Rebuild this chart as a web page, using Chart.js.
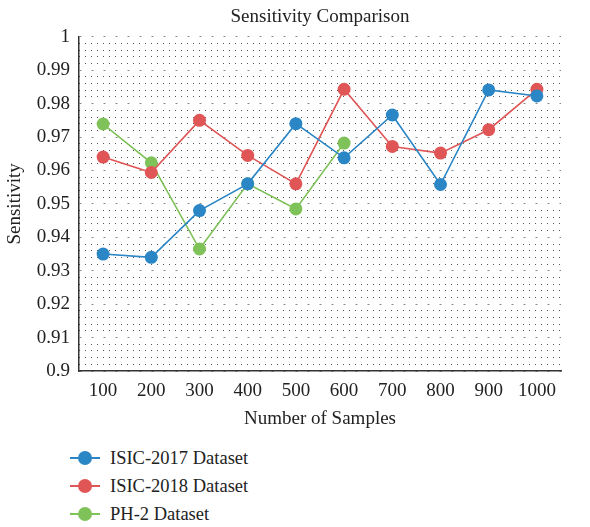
<!DOCTYPE html>
<html>
<head>
<meta charset="utf-8">
<script src="https://cdn.jsdelivr.net/npm/chart.js@4.4.1/dist/chart.umd.min.js"></script>
<style>
  html, body { margin: 0; padding: 0; background: #fff; }
  #wrap { position: relative; width: 590px; height: 527px; }
  #chartBox { position: absolute; left: 0; top: 0; width: 590px; height: 440px; }
  #legend { position: absolute; left: 70px; top: 444px; font-family: "Liberation Serif", serif; font-size: 18.5px; color: #222; }
  .item { height: 28px; display: flex; align-items: center; }
  .mark { position: relative; width: 30px; height: 14px; margin-right: 10px; }
  .mark .ln { position: absolute; left: 0; top: 6px; width: 30px; height: 2px; }
  .mark .dot { position: absolute; left: 8px; top: 0; width: 14px; height: 14px; border-radius: 50%; }
</style>
</head>
<body>
<div id="wrap">
  <div id="chartBox"><canvas id="sensChart"></canvas></div>
  <div id="legend"></div>
</div>
<script>
const samples = ['100', '200', '300', '400', '500', '600', '700', '800', '900', '1000'];
const isic2017 = [0.935, 0.934, 0.948, 0.956, 0.974, 0.9638, 0.9766, 0.9558, 0.9841, 0.9823];
const isic2018 = [0.964, 0.9594, 0.975, 0.9645, 0.956, 0.9843, 0.9672, 0.9652, 0.9722, 0.9843];
const ph2 = [0.9739, 0.9623, 0.9365, 0.956, 0.9485, 0.9682, null, null, null, null];
const seriesNames = ['ISIC-2017 Dataset', 'ISIC-2018 Dataset', 'PH-2 Dataset'];
const seriesColors = ['#2b86c6', '#e05656', '#80c25a'];

const serif = "'Liberation Serif', 'Times New Roman', serif";

function makeSet(i, data) {
    return {
        label: seriesNames[i],
        data: data,
        borderColor: seriesColors[i],
        backgroundColor: seriesColors[i],
        pointBackgroundColor: seriesColors[i],
        pointBorderWidth: 0,
        pointRadius: 6.5,
        borderWidth: 1.6,
        tension: 0,
        spanGaps: false
    };
}

const ctx = document.getElementById('sensChart').getContext('2d');
new Chart(ctx, {
    type: 'line',
    data: {
        labels: samples,
        datasets: [makeSet(0, isic2017), makeSet(1, isic2018), makeSet(2, ph2)]
    },
    options: {
        responsive: true,
        maintainAspectRatio: false,
        animation: false,
        layout: { padding: { left: 4, right: 29, top: 4, bottom: 5 } },
        plugins: {
            legend: { display: false },
            tooltip: { enabled: false },
            title: {
                display: true,
                fullSize: false,
                text: 'Sensitivity Comparison',
                color: '#222',
                font: { family: serif, size: 19, weight: 'normal', lineHeight: 1.2 },
                padding: { top: 2, bottom: 8 }
            }
        },
        scales: {
            x: {
                offset: true,
                grid: { display: false },
                border: { display: true, color: '#333', width: 1.5 },
                ticks: { color: '#222', font: { family: serif, size: 19 }, padding: 1 },
                title: {
                    display: true,
                    text: 'Number of Samples',
                    color: '#222',
                    font: { family: serif, size: 19 },
                    padding: { top: 2, bottom: 5 }
                },
                afterFit: s => { s.height = 64; }
            },
            y: {
                min: 0.9,
                max: 1,
                position: 'left',
                grid: { color: '#888', lineWidth: 1, drawTicks: false },
                border: { display: true, color: '#333', width: 1.5, dash: [2, 10] },
                ticks: {
                    stepSize: 0.01,
                    color: '#222',
                    padding: 9,
                    font: { family: serif, size: 19 },
                    callback: v => String(+v.toFixed(2))
                },
                title: {
                    display: true,
                    text: 'Sensitivity',
                    color: '#222',
                    font: { family: serif, size: 19 },
                    padding: { top: 0, bottom: 0 }
                },
                afterFit: s => { s.width = 75; }
            },
            yMinor: {
                min: 0.9,
                max: 1,
                position: 'left',
                grid: {
                    drawTicks: false,
                    lineWidth: 1,
                    color: c => Math.round(c.tick.value * 1000) % 10 === 0 ? 'rgba(0,0,0,0)' : '#555'
                },
                border: { display: false, dash: [1, 5] },
                ticks: { display: false, stepSize: 0.002 },
                afterFit: s => { s.width = 0; }
            }
        }
    }
});

// Legend (vertical list under the chart)
const legendEl = document.getElementById('legend');
seriesNames.forEach((name, i) => {
    const row = document.createElement('div');
    row.className = 'item';
    row.innerHTML = '<span class="mark"><span class="ln" style="background:' + seriesColors[i] +
        '"></span><span class="dot" style="background:' + seriesColors[i] + '"></span></span>' + name;
    legendEl.appendChild(row);
});
</script>
</body>
</html>
